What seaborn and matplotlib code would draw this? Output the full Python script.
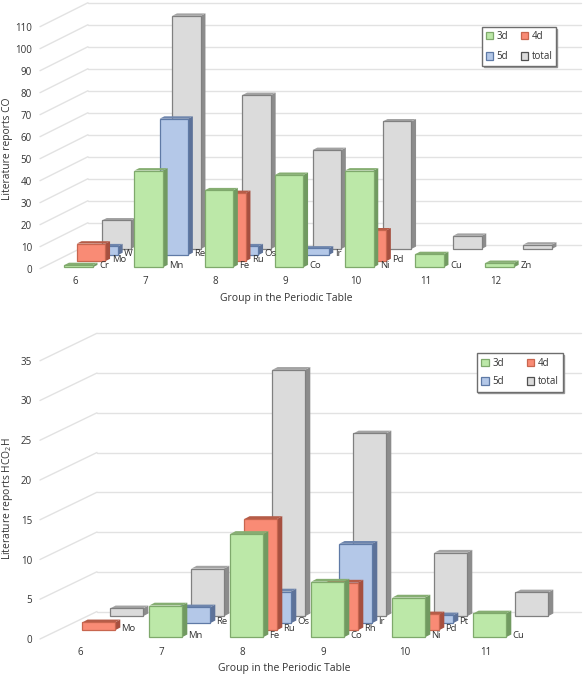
"""Pseudo-3D column charts: literature reports of CO and HCO2H by periodic group."""

import matplotlib.pyplot as plt
import seaborn as sns
from matplotlib.patches import Patch

W, H = 583, 675
SERIES = ["3d", "4d", "5d", "total"]
FACE = {"3d": "#BCE8A8", "4d": "#F98B75", "5d": "#B4C8E8", "total": "#DBDBDB"}
EDGE = {"3d": "#7FA96C", "4d": "#C8664F", "5d": "#5F7AA6", "total": "#808080"}
SIDE = {"3d": "#719A61", "4d": "#A65040", "5d": "#5D7299", "total": "#8C8C8C"}
TOP = {"3d": "#86AE72", "4d": "#B55C48", "5d": "#6F86AD", "total": "#A3A3A3"}
GRID = "#E2E2E2"
TEXT = "#333333"

# CO panel
co_groups = [6, 7, 8, 9, 10, 11, 12]
co_yticks = list(range(0, 111, 10))
co_3d_groups = [6, 7, 8, 9, 10, 11, 12]
co_3d_elements = ["Cr", "Mn", "Fe", "Co", "Ni", "Cu", "Zn"]
co_3d_values = [1, 44, 35, 42, 44, 6, 2]
co_4d_groups = [6, 8, 10]
co_4d_elements = ["Mo", "Ru", "Pd"]
co_4d_values = [8, 31, 14]
co_5d_groups = [6, 7, 8, 9]
co_5d_elements = ["W", "Re", "Os", "Ir"]
co_5d_values = [4, 62, 4, 3]
co_total_groups = [6, 7, 8, 9, 10, 11, 12]
co_total_values = [13, 106, 70, 45, 58, 6, 2]

# HCO2H panel
hco_groups = [6, 7, 8, 9, 10, 11]
hco_yticks = list(range(0, 36, 5))
hco_3d_groups = [7, 8, 9, 10, 11]
hco_3d_elements = ["Mn", "Fe", "Co", "Ni", "Cu"]
hco_3d_values = [4, 13, 7, 5, 3]
hco_4d_groups = [6, 8, 9, 10]
hco_4d_elements = ["Mo", "Ru", "Rh", "Pd"]
hco_4d_values = [1, 14, 6, 2]
hco_5d_groups = [7, 8, 9, 10]
hco_5d_elements = ["Re", "Os", "Ir", "Pt"]
hco_5d_values = [2, 4, 10, 1]
hco_total_groups = [6, 7, 8, 9, 10, 11]
hco_total_values = [1, 6, 31, 23, 8, 3]

sns.set_theme(style="white")
plt.rcParams.update({"font.family": "Open Sans", "mathtext.default": "regular", "font.size": 7.2, "text.color": TEXT})


def draw_panel(ax, groups, yticks, rows, px_group, px_unit, first_center, bar_px, base_px,
               row_px, depth_px, back_px):
    """rows = {series: (groups, elements, values)}, drawn from the back row to the front."""
    bbox = ax.get_window_extent()
    x0 = (bbox.x0 - first_center) / px_group
    ax.set_xlim(x0, x0 + bbox.width / px_group)
    ax.set_ylim(0, bbox.height / px_unit)
    to_x = lambda px: px / px_group
    to_y = lambda px: px / px_unit

    # floor and wall lines
    left, right = ax.get_xlim()
    for v in yticks:
        ax.plot([left, left + to_x(back_px[0])], [v, v + to_y(back_px[1])], color=GRID, lw=1, clip_on=False, zorder=1)
        ax.plot([left + to_x(back_px[0]), right], [v + to_y(back_px[1])] * 2, color=GRID, lw=1, clip_on=False, zorder=1)

    for name in reversed(SERIES):
        row = SERIES.index(name)
        g, elements, values = rows[name]
        n_before = len(ax.patches)
        sns.barplot(x=g, y=values, order=groups, width=bar_px / px_group, color=FACE[name], saturation=1,
                    edgecolor=EDGE[name], linewidth=0.9, ax=ax)
        z = 3 + (3 - row)
        bars = ax.patches[n_before:]
        for i, bar in enumerate(bars):
            bar.set_x(bar.get_x() + to_x(row * row_px[0]))
            base = to_y(base_px + row * row_px[1])
            bar.set_y(base)
            bar.set_zorder(z + 0.1)
            xl, xr = bar.get_x(), bar.get_x() + bar.get_width()
            top = base + bar.get_height()
            dx, dy = to_x(depth_px[0]), to_y(depth_px[1])
            ax.fill([xr, xr + dx, xr + dx, xr], [base, base + dy, top + dy, top], color=SIDE[name], lw=0, zorder=z)
            ax.fill([xl, xr, xr + dx, xl + dx], [top, top, top + dy, top + dy], color=TOP[name], lw=0, zorder=z)
            if name != "total":
                ax.text(xr + to_x(6.3), base + to_y(2), elements[i], ha="left", va="center", fontsize=6.8,
                        color=TEXT, zorder=9)

    ax.set_xlim(left, right)
    ax.set_ylim(0, bbox.height / px_unit)
    ax.set_xticks([i - 0.05 for i in range(len(groups))], [str(g) for g in groups])
    ax.set_yticks(yticks, [str(v) for v in yticks])
    ax.tick_params(axis="both", length=0, labelsize=7, labelcolor=TEXT)
    ax.tick_params(axis="x", pad=5.6)
    ax.tick_params(axis="y", pad=5.8)
    ax.set_xlabel("")
    ax.set_ylabel("")
    sns.despine(ax=ax, left=True, bottom=True)
    ax.patch.set_alpha(0)


def add_legend(fig, box):
    handles = [Patch(facecolor=FACE[s], edgecolor=EDGE[s] if s != "total" else "#505050", linewidth=0.9) for s in ["3d", "5d", "4d", "total"]]
    leg = fig.legend(handles, ["3d", "5d", "4d", "total"], ncol=2, loc="center",
                     bbox_to_anchor=((box[0] + box[2]) / 2 / W, 1 - (box[1] + box[3]) / 2 / H),
                     fontsize=7, frameon=True, fancybox=False, shadow={"color": "#999999", "ox": 1, "oy": -1, "alpha": 1},
                     handlelength=0.75, handleheight=0.8, handletextpad=0.35,
                     columnspacing=box[4], labelspacing=box[5], borderpad=box[6])
    leg.get_frame().set_edgecolor("#6E6E6E")
    leg.get_frame().set_linewidth(1)
    leg.get_frame().set_facecolor("white")
    leg.get_frame().set_alpha(1)
    leg.set_zorder(20)


fig = plt.figure(figsize=(W / 100, H / 100), dpi=100)

# bottoms and heights are in image pixels, turned into figure fractions
ax_co = fig.add_axes([40 / W, 1 - 268.7 / H, 541 / W, 268.7 / H])
ax_hco = fig.add_axes([40 / W, 1 - 639 / H, 541 / W, 309 / H])

draw_panel(ax_co, co_groups, co_yticks,
           {"3d": (co_3d_groups, co_3d_elements, co_3d_values),
            "4d": (co_4d_groups, co_4d_elements, co_4d_values),
            "5d": (co_5d_groups, co_5d_elements, co_5d_values),
            "total": (co_total_groups, [""] * len(co_total_groups), co_total_values)},
           px_group=70.2, px_unit=2.2, first_center=78.5, bar_px=28.5, base_px=1.4,
           row_px=(12.6, 6.1), depth_px=(4.7, 2.4), back_px=(48, 24))

draw_panel(ax_hco, hco_groups, hco_yticks,
           {"3d": (hco_3d_groups, hco_3d_elements, hco_3d_values),
            "4d": (hco_4d_groups, hco_4d_elements, hco_4d_values),
            "5d": (hco_5d_groups, hco_5d_elements, hco_5d_values),
            "total": (hco_total_groups, [""] * len(hco_total_groups), hco_total_values)},
           px_group=81, px_unit=7.95, first_center=84.65, bar_px=32.7, base_px=1.7,
           row_px=(14, 7), depth_px=(5.3, 2.8), back_px=(57, 27.5))

fig.text(7.5 / W, 1 - 149 / H, "Literature reports CO", rotation=90, ha="center", va="center", fontsize=7.4, color=TEXT)
fig.text(7.5 / W, 1 - 499 / H, "Literature reports HCO$_2$H", rotation=90, ha="center", va="center", fontsize=7.4, color=TEXT)
fig.text(286 / W, 1 - 299 / H, "Group in the Periodic Table", ha="center", va="center", fontsize=7.5, color=TEXT)
fig.text(284 / W, 1 - 668 / H, "Group in the Periodic Table", ha="center", va="center", fontsize=7.5, color=TEXT)

add_legend(fig, (484, 26, 554, 67, 1.3, 0.97, 0.35))
add_legend(fig, (476, 353, 564, 392, 2.4, 0.78, 0.45))

fig.savefig("out.png", dpi=100)
